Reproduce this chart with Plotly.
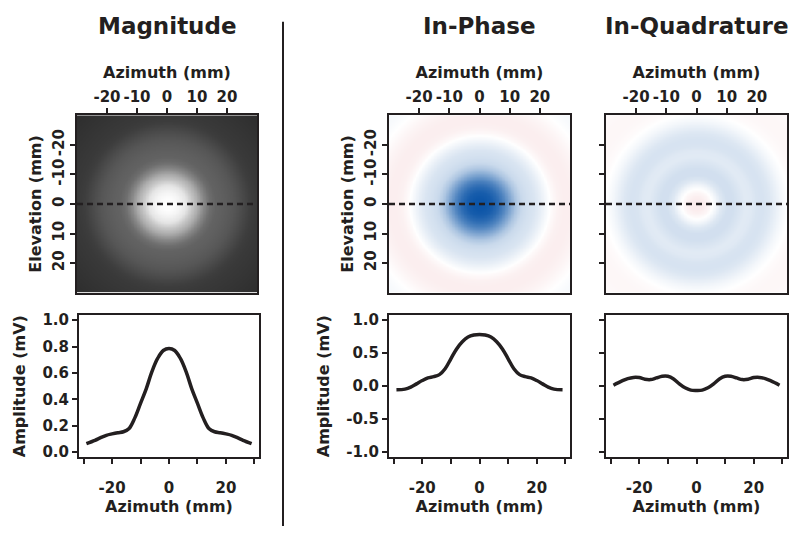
import numpy as np
import plotly.graph_objects as go

W, H = 791, 533

# ---------------- data ----------------
# line profiles along the dashed line (elevation = 0)
AZ = [-29, -26, -24, -22, -20, -18, -16, -14, -12, -10, -8, -6, -4, -2, 0,
      2, 4, 6, 8, 10, 12, 14, 16, 18, 20, 22, 24, 26, 29]
MAG = [0.065, 0.09, 0.11, 0.128, 0.139, 0.148, 0.155, 0.18, 0.26, 0.37, 0.48, 0.61, 0.71, 0.77, 0.785,
       0.77, 0.71, 0.61, 0.48, 0.37, 0.26, 0.18, 0.155, 0.148, 0.139, 0.128, 0.11, 0.09, 0.065]
INPH = [-0.06, -0.05, -0.02, 0.03, 0.08, 0.12, 0.14, 0.17, 0.26, 0.41, 0.56, 0.67, 0.74, 0.77, 0.78,
        0.77, 0.74, 0.67, 0.56, 0.41, 0.26, 0.17, 0.14, 0.12, 0.08, 0.03, -0.02, -0.05, -0.06]
QUAD = [0.01, 0.074, 0.11, 0.128, 0.125, 0.10, 0.095, 0.12, 0.145, 0.145, 0.105, 0.03, -0.03, -0.065, -0.07,
        -0.065, -0.03, 0.03, 0.105, 0.145, 0.145, 0.12, 0.095, 0.10, 0.125, 0.128, 0.11, 0.074, 0.01]

# radial profiles of the (radially symmetric) images
RAD = [0, 2, 4, 6, 8, 10, 12, 14, 16, 18, 20, 22, 24, 26, 28, 30, 32, 34, 36, 38, 40, 42, 44]
RAD_MAG = [0.785, 0.77, 0.71, 0.61, 0.48, 0.37, 0.26, 0.18, 0.155, 0.148, 0.139, 0.128, 0.11, 0.09,
           0.07, 0.06, 0.055, 0.05, 0.045, 0.04, 0.035, 0.03, 0.03]
RAD_INPH = [0.78, 0.77, 0.74, 0.67, 0.56, 0.41, 0.26, 0.17, 0.14, 0.12, 0.08, 0.03, -0.02, -0.05,
            -0.06, -0.06, -0.05, -0.035, -0.015, 0.005, 0.02, 0.03, 0.03]
RAD_QUAD = [-0.07, -0.065, -0.03, 0.03, 0.105, 0.145, 0.145, 0.12, 0.095, 0.10, 0.125, 0.128, 0.11,
            0.074, 0.035, 0.005, -0.015, -0.025, -0.03, -0.03, -0.025, -0.02, -0.015]

IMG_TICKS = [-20, -10, 0, 10, 20]
IMG_TICKTEXT = ["-20", "-10", "0", "10", "20"]
LINE_XTICKS = [-30, -20, -10, 0, 10, 20, 30]
LINE_XTEXT = ["", "-20", "", "0", "", "20", ""]
MAG_YTICKS = [0.0, 0.2, 0.4, 0.6, 0.8, 1.0]
MAG_YTEXT = ["0.0", "0.2", "0.4", "0.6", "0.8", "1.0"]
IQ_YTICKS = [-1.0, -0.5, 0.0, 0.5, 1.0]
IQ_YTEXT = ["-1.0", "-0.5", "0.0", "0.5", "1.0"]

TITLES = ["Magnitude", "In-Phase", "In-Quadrature"]

# ---------------- helpers ----------------
FONT = "DejaVu Sans"
INK = "#231f20"

def px_x(p):
    return p / W

def px_y(p):
    return 1 - p / H

grid = np.arange(-30, 30.01, 0.5)
GX, GY = np.meshgrid(grid, grid)
GR = np.sqrt(GX ** 2 + GY ** 2)

fig = go.Figure()

gray_scale = [[0, "rgb(35,35,35)"], [0.1, "rgb(64,64,64)"], [0.23, "rgb(110,110,110)"],
              [0.47, "rgb(172,172,172)"], [0.75, "rgb(228,228,228)"], [1, "rgb(255,255,255)"]]
div_scale = [[0, "rgb(200,30,40)"], [0.5, "rgb(255,255,255)"], [1, "rgb(5,80,165)"]]

images = [
    (np.interp(GR, RAD, RAD_MAG), gray_scale, 0, 0.785),
    (np.interp(GR, RAD, RAD_INPH), div_scale, -0.8, 0.8),
    (np.interp(GR, RAD, RAD_QUAD), div_scale, -0.8, 0.8),
]
lines = [MAG, INPH, QUAD]

img_x = [(77, 257), (389, 570), (606, 787)]
line_x = [(79, 259), (389, 570), (606, 787)]
img_y = (113, 293)
line_y = (316, 460)

tickfont = dict(family=FONT, size=15, color=INK, weight="bold")
titlefont = dict(family=FONT, size=16, color=INK, weight="bold")

layout = {}
for i in range(3):
    ia = 2 * i + 1   # image axes
    la = 2 * i + 2   # line axes
    z, cs, zmin, zmax = images[i]
    fig.add_trace(go.Heatmap(x=grid, y=grid, z=z, colorscale=cs, zmin=zmin, zmax=zmax,
                             showscale=False, zsmooth="best",
                             xaxis=f"x{ia}", yaxis=f"y{ia}", hoverinfo="skip"))
    fig.add_trace(go.Scatter(x=[-30, 30], y=[0, 0], mode="lines",
                             line=dict(color=INK, width=2.5, dash="6px,4px"),
                             xaxis=f"x{ia}", yaxis=f"y{ia}", hoverinfo="skip"))
    fig.add_trace(go.Scatter(x=AZ, y=lines[i], mode="lines", line_shape="spline",
                             line=dict(color=INK, width=3.5),
                             xaxis=f"x{la}", yaxis=f"y{la}"))

    common = dict(showline=True, linecolor=INK, linewidth=2, mirror=True,
                  ticks="outside", ticklen=5, tickwidth=2, tickcolor=INK,
                  showgrid=False, zeroline=False, tickfont=tickfont, fixedrange=True)

    xa = "xaxis" if ia == 1 else f"xaxis{ia}"
    ya = "yaxis" if ia == 1 else f"yaxis{ia}"
    layout[xa] = dict(common, domain=[px_x(img_x[i][0]), px_x(img_x[i][1])],
                      anchor=f"y{ia}", side="top", range=[-30, 30],
                      tickvals=IMG_TICKS, ticktext=IMG_TICKTEXT,
                      title=dict(text="Azimuth (mm)", font=titlefont, standoff=6))
    yd = dict(common, domain=[px_y(img_y[1]), px_y(img_y[0])], anchor=f"x{ia}",
              range=[30, -30], tickvals=IMG_TICKS, ticktext=IMG_TICKTEXT, tickangle=-90)
    if i < 2:
        yd["title"] = dict(text="Elevation (mm)", font=titlefont, standoff=4)
    else:
        yd["showticklabels"] = False
    layout[ya] = yd

    if i == 0:
        yt, ytx, yr = MAG_YTICKS, MAG_YTEXT, [-0.037, 1.037]
    else:
        yt, ytx, yr = IQ_YTICKS, IQ_YTEXT, [-1.08, 1.07]
    layout[f"xaxis{la}"] = dict(common, domain=[px_x(line_x[i][0]), px_x(line_x[i][1])],
                                anchor=f"y{la}", range=[-31.6, 31.6],
                                tickvals=LINE_XTICKS, ticktext=LINE_XTEXT,
                                ticklabelstandoff=11,
                                title=dict(text="Azimuth (mm)", font=titlefont, standoff=3))
    ld = dict(common, domain=[px_y(line_y[1]), px_y(line_y[0])], anchor=f"x{la}",
              range=yr, tickvals=yt, ticktext=ytx)
    if i < 2:
        ld["title"] = dict(text="Amplitude (mV)", font=titlefont, standoff=13)
    else:
        ld["showticklabels"] = False
    layout[f"yaxis{la}"] = ld

title_x = [167, 479, 697]
annotations = [dict(text=TITLES[i], x=px_x(title_x[i]), y=px_y(22), xref="paper", yref="paper",
                    showarrow=False, xanchor="center", yanchor="middle",
                    font=dict(family=FONT, size=23, color=INK, weight="bold"))
               for i in range(3)]

fig.update_layout(
    width=W, height=H, margin=dict(l=0, r=0, t=0, b=0),
    paper_bgcolor="white", plot_bgcolor="white", showlegend=False,
    annotations=annotations,
    shapes=[dict(type="line", xref="paper", yref="paper",
                 x0=px_x(283), x1=px_x(283), y0=px_y(18), y1=px_y(530),
                 line=dict(color=INK, width=2))],
    **layout,
)

fig.write_html("out.html", config={"displayModeBar": False},
               post_script="document.body.style.margin='0px';")
